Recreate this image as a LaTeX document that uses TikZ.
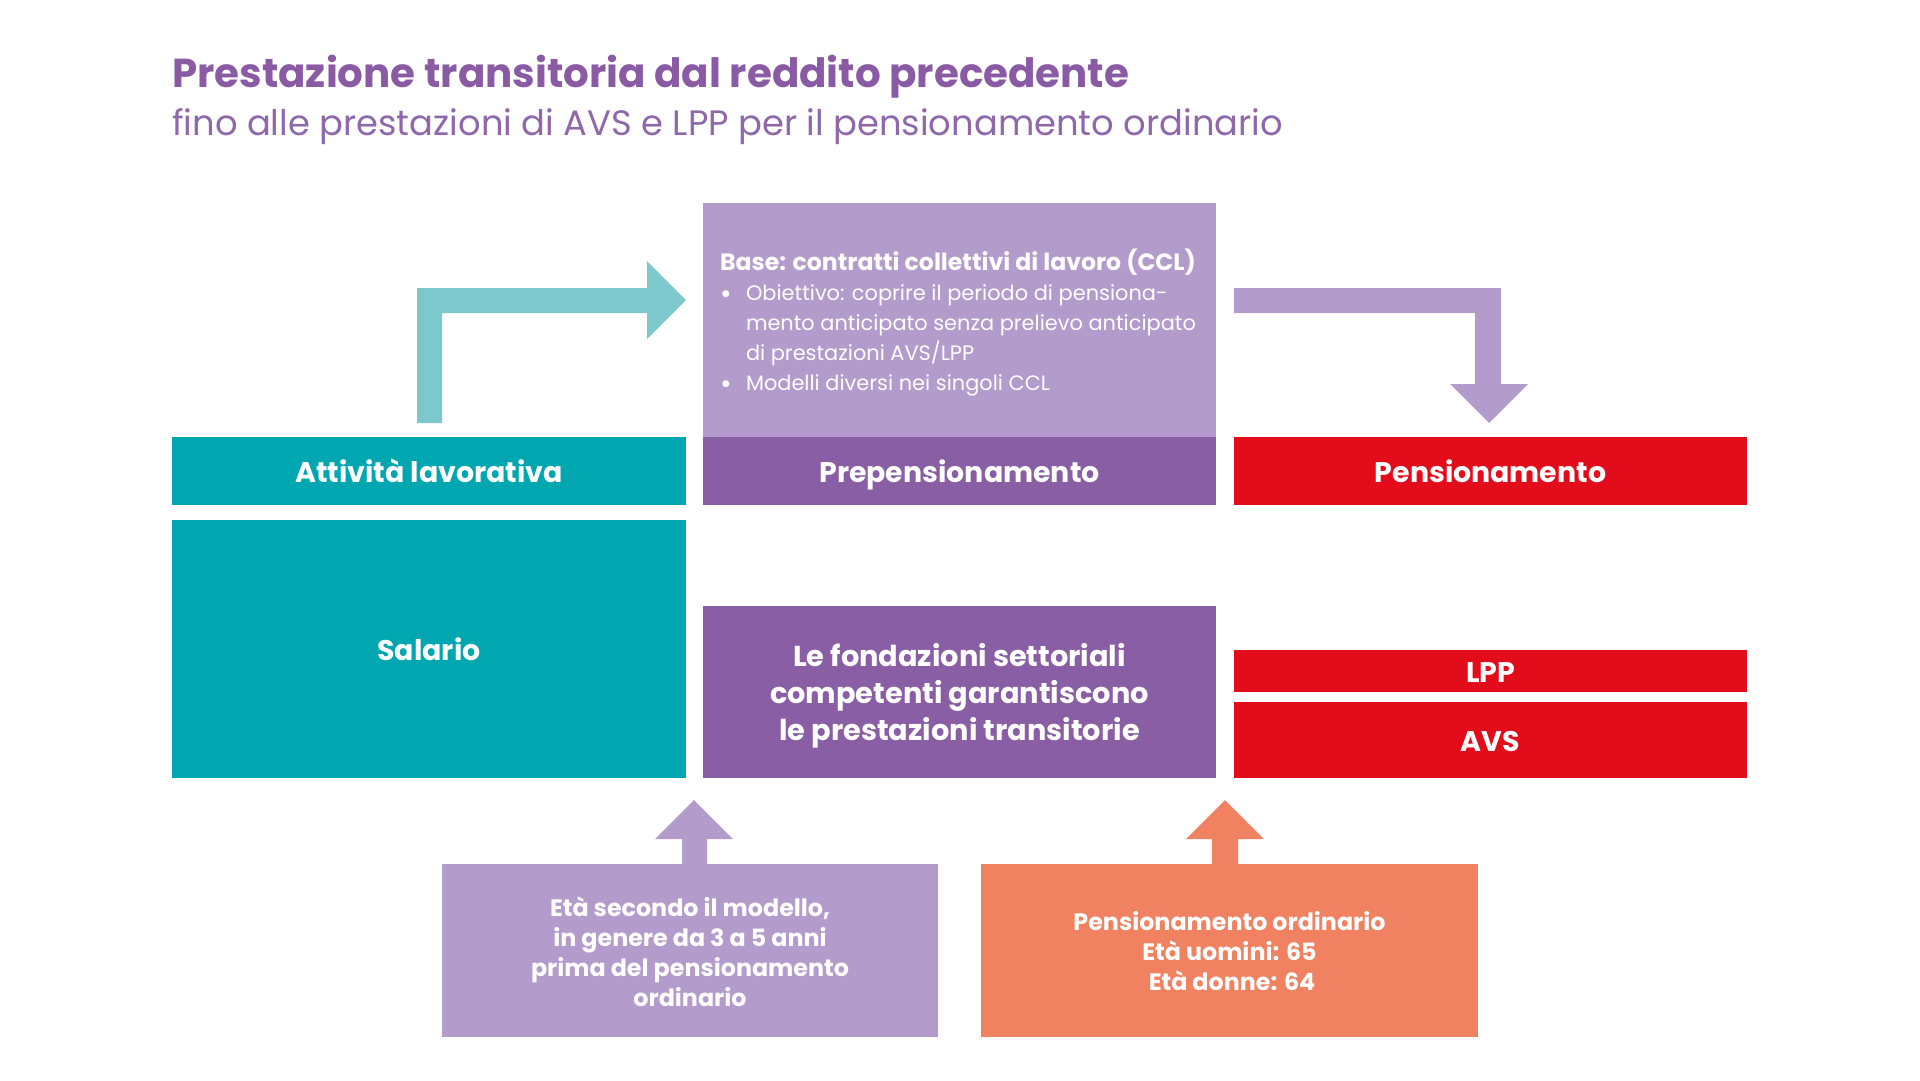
\documentclass[tikz,border=0pt]{standalone}
\usepackage{fontspec}
\setmainfont{Poppins}
\definecolor{cttl}{HTML}{8A5AA5}
\definecolor{csub}{HTML}{8F68AC}
\definecolor{cteal}{HTML}{00A6B0}
\definecolor{ctealarr}{HTML}{7DC8CC}
\definecolor{clpur}{HTML}{B39BCB}
\definecolor{cdpur}{HTML}{8A5EA5}
\definecolor{cred}{HTML}{E20C1B}
\definecolor{corange}{HTML}{F08262}
\tikzset{
  blk/.style={fill=#1, draw=none, inner sep=0pt, text=white,
    font=\fontsize{28.4}{37}\selectfont\bfseries, text height=24pt, text depth=1pt},
  plainblk/.style={fill=#1, draw=none, inner sep=0pt},
  boxtext/.style={text=white, inner sep=0pt, align=center,
    font=\fontsize{28.8}{37}\selectfont\bfseries},
  smalltext/.style={text=white, inner sep=0pt, align=center,
    font=\fontsize{23.8}{30}\selectfont\bfseries},
  arrowshape/.style={fill=#1, draw=none},
}
\newcommand\bul{\makebox[26pt][l]{\raisebox{-0.12em}{\fontsize{28}{28}\selectfont\textbullet}}}
\begin{document}
\begin{tikzpicture}[x=1pt,y=-1pt]
\useasboundingbox (0,0) rectangle (1920,1080);
\fill[white] (0,0) rectangle (1920,1080);

% titles
\node[anchor=base west, inner sep=0, text=cttl, font=\fontsize{40.4}{48}\selectfont\bfseries] (title) at (172,87) {Prestazione transitoria dal reddito precedente};
\node[anchor=base west, inner sep=0, text=csub, font=\fontsize{35.3}{40}\selectfont] (subtitle) at (172,135) {fino alle prestazioni di AVS e LPP per il pensionamento ordinario};

% column 1
\node[blk=cteal, minimum width=514, minimum height=68] (att) at (429,471) {Attività lavorativa};
\node[blk=cteal, minimum width=514, minimum height=258] (sal) at (429,649) {Salario};

% column 2
\node[plainblk=clpur, minimum width=513, minimum height=234] (ccl) at (959.5,320) {};
\node[text=white, align=left, inner sep=0, font=\fontsize{20.9}{30}\selectfont] (ccltext) at (958,323) {%
{\fontsize{23.6}{30}\selectfont\bfseries Base: contratti collettivi di lavoro (CCL)}\\
\bul Obiettivo: coprire il periodo di pensiona-\\
\hspace*{26pt}mento anticipato senza prelievo anticipato\\
\hspace*{26pt}di prestazioni AVS/LPP\\
\bul Modelli diversi nei singoli CCL};
\node[blk=cdpur, minimum width=513, minimum height=68] (prep) at (959.5,471) {Prepensionamento};
\node[plainblk=cdpur, minimum width=513, minimum height=172] (fond) at (959.5,692) {};
\node[boxtext, yshift=-4pt] (fondtext) at (fond.center) {Le fondazioni settoriali\\competenti garantiscono\\le prestazioni transitorie};

% column 3
\node[blk=cred, minimum width=513, minimum height=68] (pens) at (1490.5,471) {Pensionamento};
\node[blk=cred, minimum width=513, minimum height=42] (lpp) at (1490.5,671) {LPP};
\node[blk=cred, minimum width=513, minimum height=76] (avs) at (1490.5,740) {AVS};

% bottom boxes
\node[plainblk=clpur, minimum width=496, minimum height=173] (eta) at (690,950.5) {};
\node[smalltext, yshift=-1pt] (etatext) at (eta.center) {Età secondo il modello,\\in genere da 3 a 5 anni\\prima del pensionamento\\ordinario};
\node[plainblk=corange, minimum width=497, minimum height=173] (ord) at (1229.5,950.5) {};
\node[smalltext, yshift=-1pt] (ordtext) at (ord.center) {Pensionamento ordinario\\Età uomini: 65\\\ Età donne: 64};

% arrows
\fill[arrowshape=ctealarr] (417,423) -- (417,288) -- (647,288) -- (647,261) -- (686,300) -- (647,339) -- (647,313) -- (442,313) -- (442,423) -- cycle;
\fill[arrowshape=clpur] (pens.north west |- 0,288) -- (1501,288) -- (1501,384) -- (1528,384) -- (1489,423) -- (1450,384) -- (1475,384) -- (1475,313) -- (pens.north west |- 0,313) -- cycle;
\fill[arrowshape=clpur] (682,0 |- eta.north) -- (682,839) -- (655,839) -- (694,800) -- (733,839) -- (707,839) -- (707,0 |- eta.north) -- cycle;
\fill[arrowshape=corange] (1212,0 |- ord.north) -- (1212,839) -- (1186,839) -- (1225,800) -- (1264,839) -- (1238,839) -- (1238,0 |- ord.north) -- cycle;
\end{tikzpicture}
\end{document}
